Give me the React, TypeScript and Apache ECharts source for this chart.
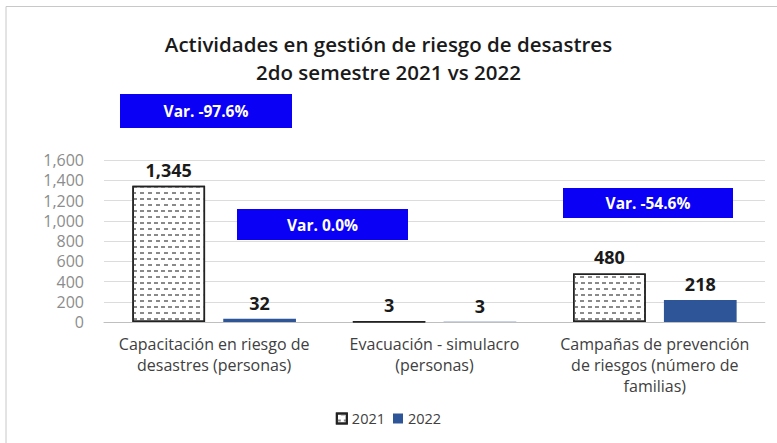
import React, { useEffect, useRef } from "react";
import * as echarts from "echarts";

const categories = [
  "Capacitación en riesgo de\ndesastres (personas)",
  "Evacuación - simulacro\n(personas)",
  "Campañas de prevención\nde riesgos (número de\nfamilias)",
];
const values2021 = [1345, 3, 480];
const values2022 = [32, 3, 218];
const variations = ["Var. -97.6%", "Var. 0.0%", "Var. -54.6%"];
const yTicks = { min: 0, max: 1600, interval: 200 };
const titleLines = ["Actividades en gestión de riesgo de desastres", "2do semestre 2021 vs 2022"];

const FONT = "'Open Sans', Lato, sans-serif";

export default function App() {
  const ref = useRef<HTMLDivElement>(null);
  useEffect(() => {
    if (!ref.current) return;
    const chart = echarts.init(ref.current, null, { renderer: "svg" });
    const fmt = (v: number) => v.toLocaleString("en-US");
    const boxes = [
      { x: 120, y: 94, w: 172, h: 34 },
      { x: 237, y: 209, w: 171, h: 31 },
      { x: 563, y: 188, w: 170, h: 30 },
    ];
    const barLabel = {
      show: true,
      position: "top",
      distance: 7,
      fontSize: 18,
      fontWeight: "bold",
      color: "#1a1a1a",
      fontFamily: FONT,
      formatter: (p: any) => fmt(p.value),
    };
    const titleStyle = {
      fontFamily: FONT,
      fontSize: 20.5,
      fontWeight: 600,
      color: "#1a1a1a",
      lineHeight: 28,
    };
    chart.setOption({
      animation: false,
      backgroundColor: "#fff",
      textStyle: { fontFamily: FONT },
      title: {
        text: titleLines[0],
        subtext: titleLines[1],
        left: "center",
        top: 25,
        itemGap: 0,
        textStyle: titleStyle,
        subtextStyle: titleStyle,
      },
      legend: {
        bottom: 12,
        left: "center",
        icon: "rect",
        itemWidth: 10,
        itemHeight: 10,
        itemGap: 8,
        textStyle: { fontSize: 14.5, color: "#404040", fontFamily: FONT },
        data: ["2021", "2022"],
      },
      grid: { left: 104, right: 12, top: 160, bottom: 121 },
      xAxis: {
        type: "category",
        data: categories,
        axisLine: { lineStyle: { color: "#bfbfbf" } },
        axisTick: { show: false },
        axisLabel: {
          color: "#404040",
          fontSize: 16,
          lineHeight: 21,
          margin: 11,
          fontFamily: FONT,
          interval: 0,
        },
      },
      yAxis: {
        type: "value",
        min: yTicks.min,
        max: yTicks.max,
        interval: yTicks.interval,
        axisLine: { show: false },
        axisTick: { show: false },
        splitLine: { lineStyle: { color: "#dcdcdc" } },
        axisLabel: {
          color: "#8c8c8c",
          fontSize: 16,
          margin: 20,
          fontFamily: FONT,
          formatter: (v: number) => fmt(v),
        },
      },
      series: [
        {
          name: "2021",
          type: "bar",
          data: values2021,
          barWidth: "33%",
          barGap: "25%",
          itemStyle: {
            color: "#ffffff",
            borderColor: "#222",
            borderWidth: 1.5,
            decal: {
              symbol: "rect",
              symbolSize: 1,
              color: "#8a8a8a",
              dashArrayX: [
                [3.5, 3],
                [0, 3.25, 3.5, 0],
              ],
              dashArrayY: [1.3, 3.7],
            },
          },
          label: barLabel,
        },
        {
          name: "2022",
          type: "bar",
          data: values2022,
          barWidth: "33%",
          itemStyle: { color: "#2e5597" },
          label: barLabel,
        },
      ],
      graphic: [
        {
          type: "polyline",
          shape: { points: [[6, 443], [6, 6.5], [777, 6.5]] },
          style: { stroke: "#c8c8c8", lineWidth: 1, fill: null },
          silent: true,
        },
        ...boxes.map((b, i) => ({
          type: "group",
          z: 100,
          children: [
            {
              type: "rect",
              z: 100,
              shape: { x: b.x, y: b.y, width: b.w, height: b.h },
              style: { fill: "#0a00f5" },
            },
            {
              type: "text",
              z: 101,
              x: b.x + b.w / 2,
              y: b.y + b.h / 2,
              style: {
                text: variations[i],
                fill: "#ffffff",
                fontSize: 15.5,
                fontWeight: "bold",
                fontFamily: FONT,
                align: "center",
                verticalAlign: "middle",
              },
            },
          ],
        })),
      ],
    });
    return () => chart.dispose();
  }, []);
  return (
    <div
      ref={ref}
      style={{ position: "absolute", left: 0, top: 0, width: 777, height: 443 }}
    />
  );
}
